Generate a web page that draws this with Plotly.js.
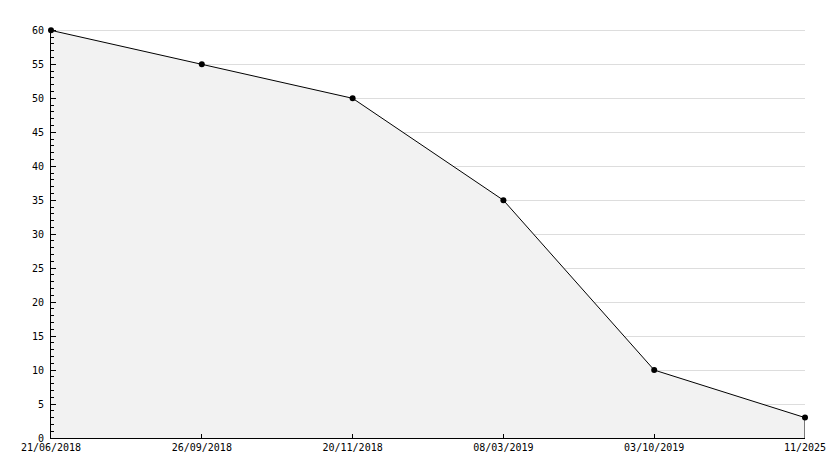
<!DOCTYPE html>
<html><head><meta charset="utf-8">
<script src="https://cdn.plot.ly/plotly-3.0.1.min.js"></script>
<style>html,body{margin:0;padding:0;background:#fff}</style>
</head><body><div id="chart" style="width:834px;height:468px"></div>
<script>
const dateLabels = ["21/06/2018", "26/09/2018", "20/11/2018", "08/03/2019", "03/10/2019", "11/2025"];
const values = [60, 55, 50, 35, 10, 3];
const positions = dateLabels.map((_, i) => i);
const last = positions.length - 1;
const font = {family: "DejaVu Sans Mono, monospace", size: 10, color: "#000"};
const traces = [
  {x: positions, y: values, type: "scatter", mode: "lines+markers", fill: "tozeroy",
   fillcolor: "#f2f2f2", line: {color: "#000", width: 1},
   marker: {symbol: "circle", size: 6, color: "#000"}, hoverinfo: "skip", cliponaxis: false},
  {x: [positions[last], positions[last]], y: [0, values[last]], type: "scatter", mode: "lines",
   line: {color: "#000", width: 1}, hoverinfo: "skip"}
];
const layout = {
  width: 834, height: 468, showlegend: false,
  margin: {l: 51, r: 29, t: 29, b: 30},
  paper_bgcolor: "#fff", plot_bgcolor: "#fff", font: font,
  xaxis: {range: [0, last], tickvals: positions, ticktext: dateLabels, showgrid: false, zeroline: false,
    showline: true, linecolor: "#000", linewidth: 1, ticks: "inside", ticklen: 4, tickcolor: "#000",
    tickfont: font, fixedrange: true},
  yaxis: {range: [0, 60.2], dtick: 5, tick0: 0, showgrid: true, gridcolor: "#dddddd", gridwidth: 1,
    zeroline: false, showline: true, linecolor: "#000", linewidth: 1, ticks: "inside", ticklen: 5,
    tickcolor: "#000", tickfont: font, ticklabelstandoff: 4,
    minor: {dtick: 1, ticklen: 3, tickcolor: "#000", ticks: "inside", showgrid: false}, fixedrange: true}
};
Plotly.newPlot("chart", traces, layout, {displayModeBar: false, staticPlot: true});
</script></body></html>
